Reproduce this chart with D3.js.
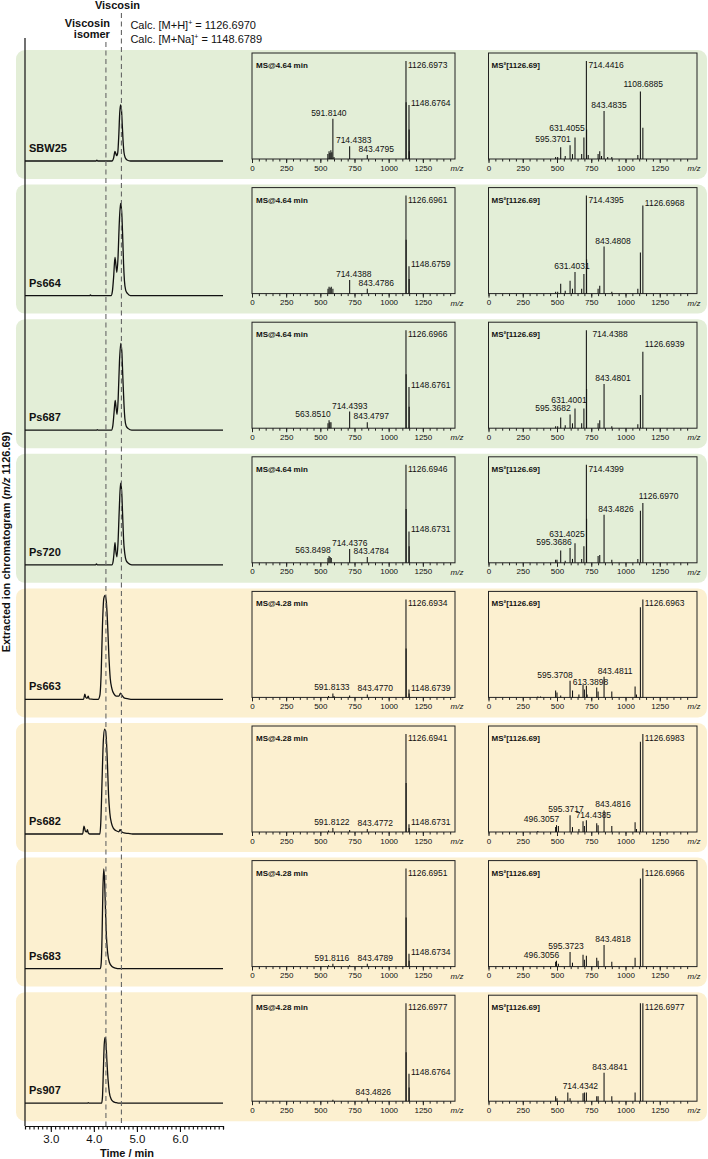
<!DOCTYPE html>
<html>
<head>
<meta charset="utf-8">
<script src="https://cdn.jsdelivr.net/npm/d3@7"></script>
<style>
  body { margin: 0; background: #fff; }
  text { font-family: "Liberation Sans", Arial, sans-serif; fill: #111; }
</style>
</head>
<body>
<svg id="chart" width="708" height="1159"></svg>
<script>
// ---- data ----
const strains = ["SBW25", "Ps664", "Ps687", "Ps720", "Ps663", "Ps682", "Ps683", "Ps907"];
const scanTimes = ["4.64", "4.64", "4.64", "4.64", "4.28", "4.28", "4.28", "4.28"];
const precursor = "1126.69";
const markerTimes = [4.28, 4.64];   // viscosin isomer, viscosin
const timeTicks = [3, 4, 5, 6];
const mzTicks = [0, 250, 500, 750, 1000, 1250];

// extracted ion chromatograms: [time (min), relative intensity]
const chromSBW25 = [[2.4,0],[4.05,0],[4.07,0.8],[4.09,0],[4.42,0],[4.46,3],[4.49,9],[4.51,7],[4.53,5],[4.555,8],[4.58,25],[4.60,45],[4.62,53],[4.64,49],[4.66,34],[4.68,18],[4.70,8],[4.73,3],[4.77,1],[4.85,0],[7.0,0]];
const chromPs664 = [[2.4,0],[3.9,0],[3.92,0.6],[3.94,0],[4.40,0],[4.43,4],[4.46,18],[4.49,36],[4.515,28],[4.535,22],[4.56,35],[4.59,68],[4.62,87],[4.645,80],[4.67,55],[4.69,30],[4.71,14],[4.74,5],[4.78,2],[4.85,0],[7.0,0]];
const chromPs687 = [[2.4,0],[4.06,0],[4.08,0.6],[4.10,0],[4.41,0],[4.44,4],[4.47,17],[4.495,28],[4.52,20],[4.54,15],[4.565,30],[4.595,65],[4.625,82],[4.65,74],[4.675,48],[4.70,24],[4.72,11],[4.75,4],[4.80,1.5],[4.88,0],[7.0,0]];
const chromPs720 = [[2.4,0],[4.04,0],[4.06,0.8],[4.08,0],[4.42,0],[4.45,4],[4.47,12],[4.49,21],[4.51,13],[4.535,7.5],[4.56,20],[4.59,52],[4.62,77],[4.645,70],[4.67,45],[4.69,24],[4.72,10],[4.75,4],[4.80,1.5],[4.88,0],[7.0,0]];
const chromPs663 = [[2.4,0],[3.76,0],[3.79,5],[3.81,2],[3.84,1],[3.87,3],[3.89,0.5],[4.10,0],[4.14,4],[4.17,25],[4.20,70],[4.23,95],[4.26,98],[4.29,92],[4.32,70],[4.35,40],[4.38,20],[4.42,10],[4.47,5],[4.52,3],[4.58,3],[4.62,6],[4.65,4],[4.70,1.5],[4.80,0.5],[4.90,0],[7.0,0]];
const chromPs682 = [[2.4,0],[3.74,0],[3.77,7.5],[3.80,3],[3.83,2],[3.85,4],[3.87,1],[3.90,0],[4.14,0],[4.16,10],[4.19,50],[4.22,88],[4.25,99],[4.28,95],[4.31,72],[4.34,38],[4.37,20],[4.41,10],[4.46,5],[4.52,3],[4.58,2],[4.61,4],[4.64,2.5],[4.70,1],[4.80,0.5],[4.90,0],[7.0,0]];
const chromPs683 = [[2.4,0],[4.15,0],[4.17,5],[4.19,30],[4.21,75],[4.23,94],[4.25,82],[4.27,55],[4.29,32],[4.32,15],[4.36,6],[4.42,2],[4.50,0.5],[4.60,0],[7.0,0]];
const chromPs907 = [[2.4,0],[3.85,0],[3.87,0.6],[3.89,0],[4.18,0],[4.20,6],[4.22,30],[4.24,55],[4.26,62],[4.28,58],[4.30,42],[4.33,22],[4.36,10],[4.40,4],[4.45,1.5],[4.52,0.5],[4.60,0],[7.0,0]];

// full-scan MS: [m/z, relative intensity %]
const ms1SBW25 = [[555,5],[563.8,8],[570,6],[577,9],[584,7],[591.81,41],[600,2],[714.44,13],[843.48,4],[1126.70,100],[1127.70,58],[1148.68,55],[1149.68,30],[1150.7,8]];
const ms1Ps664 = [[556,5],[563.8,7],[572,6],[580,7],[591.8,5],[714.44,14],[843.48,5],[1126.70,100],[1127.70,55],[1148.68,28],[1149.68,15]];
const ms1Ps687 = [[556,5],[563.85,8],[570,6],[578,6],[714.44,17],[843.48,6],[1126.70,100],[1127.70,55],[1148.68,42],[1149.68,22]];
const ms1Ps720 = [[556,5],[563.85,7],[572,6],[580,5],[714.44,14],[843.48,6],[1126.69,100],[1127.70,55],[1148.67,32],[1149.68,17]];
const ms1Ps663 = [[560,1.5],[591.81,4],[600,1.5],[714.44,2],[843.48,3],[1126.69,100],[1127.70,50],[1148.67,8],[1149.68,4]];
const ms1Ps682 = [[560,1.5],[591.81,4],[714.44,2],[843.48,3],[1126.69,100],[1127.70,50],[1148.67,8],[1149.68,4]];
const ms1Ps683 = [[560,1.5],[591.81,3],[714.44,1.5],[843.48,3],[1126.70,100],[1127.70,50],[1148.67,13],[1149.68,6]];
const ms1Ps907 = [[591.8,1.5],[843.48,3],[1126.70,100],[1127.70,50],[1148.68,28],[1149.68,14]];

const ms1LabelsSBW25 = ["591.8140", "714.4383", "843.4795", "1126.6973", "1148.6764"];
const ms1LabelsPs664 = ["714.4388", "843.4786", "1126.6961", "1148.6759"];
const ms1LabelsPs687 = ["563.8510", "714.4393", "843.4797", "1126.6966", "1148.6761"];
const ms1LabelsPs720 = ["563.8498", "714.4376", "843.4784", "1126.6946", "1148.6731"];
const ms1LabelsPs663 = ["591.8133", "843.4770", "1126.6934", "1148.6739"];
const ms1LabelsPs682 = ["591.8122", "843.4772", "1126.6941", "1148.6731"];
const ms1LabelsPs683 = ["591.8116", "843.4789", "1126.6951", "1148.6734"];
const ms1LabelsPs907 = ["843.4826", "1126.6977", "1148.6764"];

// MS2 of m/z 1126.69
const ms2SBW25 = [[490,2],[505,2],[527,12],[560,3],[595.37,14],[613,5],[631.41,22],[680,5],[696.43,22],[714.44,100],[716,30],[728,4],[800,5],[812,8],[825,3],[843.48,49],[870,2],[900,2],[1090,4],[1108.69,69],[1126.69,32]];
const ms2Ps664 = [[490,2],[505,2],[527,10],[560,3],[595.37,13],[613,5],[631.40,22],[680,5],[696.43,20],[714.44,100],[716,35],[800,5],[812,8],[843.48,48],[900,2],[1090,5],[1108.69,42],[1126.70,90]];
const ms2Ps687 = [[490,2],[505,2],[527,11],[560,3],[595.37,14],[613,5],[631.40,20],[680,5],[696.43,20],[714.44,100],[716,40],[800,5],[812,8],[843.48,45],[900,2],[1090,4],[1108.69,34],[1126.69,78]];
const ms2Ps720 = [[490,3],[500,3],[527,12.5],[560,2],[595.37,15],[613,4],[631.40,20],[680,4],[696.43,17],[714.44,100],[716,45],[800,7],[812,8],[843.48,49],[900,3],[1090,4],[1108.69,53],[1126.70,61]];
const ms2Ps663 = [[360,1],[380,1],[490,7],[500,5],[527,2],[595.37,17],[613.39,7],[660,3],[690,13],[700,8],[714.44,12],[720,3],[790,10],[800,6],[843.48,21],[900,6],[1070,11],[1080,3],[1108.69,92],[1126.70,100]];
const ms2Ps682 = [[360,1],[490,5],[496.31,7],[510,6],[595.37,17],[613,5],[660,3],[690,11],[700,6],[714.44,12],[790,9],[800,7],[843.48,22],[900,6],[1070,10],[1080,3],[1108.69,92],[1126.70,100]];
const ms2Ps683 = [[490,5],[496.31,6],[510,3],[595.37,15],[613,4],[690,12],[700,7],[714.44,11],[790,9],[800,6],[843.48,22],[900,5],[1070,9],[1108.69,90],[1126.70,100]];
const ms2Ps907 = [[490,5],[500,3],[579,9],[595.37,3],[690,8],[700,9],[714.44,9],[790,5],[800,5],[843.48,29],[900,5],[1070,9],[1108.69,100],[1126.70,100]];

const ms2LabelsSBW25 = ["595.3701", "631.4055", "714.4416", "843.4835", "1108.6885"];
const ms2LabelsPs664 = ["631.4031", "714.4395", "843.4808", "1126.6968"];
const ms2LabelsPs687 = ["595.3682", "631.4001", "714.4388", "843.4801", "1126.6939"];
const ms2LabelsPs720 = ["595.3686", "631.4025", "714.4399", "843.4826", "1126.6970"];
const ms2LabelsPs663 = ["595.3708", "613.3898", "843.4811", "1126.6963"];
const ms2LabelsPs682 = ["496.3057", "595.3717", "714.4385", "843.4816", "1126.6983"];
const ms2LabelsPs683 = ["496.3056", "595.3723", "843.4818", "1126.6966"];
const ms2LabelsPs907 = ["714.4342", "843.4841", "1126.6977"];

const chromatograms = [chromSBW25, chromPs664, chromPs687, chromPs720, chromPs663, chromPs682, chromPs683, chromPs907];
const ms1Spectra = [ms1SBW25, ms1Ps664, ms1Ps687, ms1Ps720, ms1Ps663, ms1Ps682, ms1Ps683, ms1Ps907];
const ms1Labels = [ms1LabelsSBW25, ms1LabelsPs664, ms1LabelsPs687, ms1LabelsPs720, ms1LabelsPs663, ms1LabelsPs682, ms1LabelsPs683, ms1LabelsPs907];
const ms2Spectra = [ms2SBW25, ms2Ps664, ms2Ps687, ms2Ps720, ms2Ps663, ms2Ps682, ms2Ps683, ms2Ps907];
const ms2Labels = [ms2LabelsSBW25, ms2LabelsPs664, ms2LabelsPs687, ms2LabelsPs720, ms2LabelsPs663, ms2LabelsPs682, ms2LabelsPs683, ms2LabelsPs907];

// ---- layout ----
const green = "#e3eed7", yellow = "#fcf0d0";
const rowTop0 = 50, rowStep = 134.6, rowH = 129;
const axisY = 1126;

// hand nudges for crowded peak labels [dx, dy]
const labelNudge = {
  "591.8140": [-4, 0], "714.4383": [4, 0], "843.4795": [9, 0],
  "714.4388": [4, 0], "843.4786": [9, 0],
  "563.8510": [-16, 0], "843.4797": [4, 0],
  "563.8498": [-16, 0], "843.4784": [4, 0],
  "591.8133": [-1, 0], "843.4770": [8, 0],
  "591.8122": [-1, 0], "843.4772": [8, 0],
  "591.8116": [-1, 0], "843.4789": [8, 0],
  "595.3701": [-17, 0], "631.4055": [-8, -3], "843.4835": [5, 0], "1108.6885": [-19, -5],
  "631.4031": [-3, 0], "843.4808": [9, 0],
  "595.3682": [-17, 0], "631.4001": [-6, -3], "843.4801": [9, 0], "1126.6939": [0, -6],
  "595.3686": [-16, 0], "631.4025": [-8, -3], "1126.6970": [-6, -5],
  "595.3708": [-15, 0], "613.3898": [18, -3], "843.4811": [11, 0],
  "496.3057": [-15, 0], "595.3717": [-4, 0], "714.4385": [7, 1], "843.4816": [9, 0],
  "496.3056": [-15, 0], "595.3723": [-4, 0], "843.4818": [9, 0],
  "714.4342": [-6, 0], "843.4841": [6, 0]
};
// the 843.4826 label appears in two panels with different offsets
const nudgeByPanel = { "3-ms2-843.4826": [12, 0], "7-ms1-843.4826": [6, 0] };

const svg = d3.select("#chart");
const x = d3.scaleLinear().domain([2.4, 7.0]).range([25, 223]);

// row backgrounds
strains.forEach((s, i) => {
  svg.append("rect")
    .attr("x", 16).attr("y", rowTop0 + i * rowStep)
    .attr("width", 691).attr("height", rowH)
    .attr("rx", 9)
    .attr("fill", i < 4 ? green : yellow);
});

function drawSpectrum(g, row, top, x0, xEnd, xRight, peaks, labels, title, ms2) {
  const xs = d3.scaleLinear().domain([0, 1500]).range([x0, xEnd]);
  const base = top + 109;
  const ys = d3.scaleLinear().domain([0, 100]).range([base, top + 11]);

  g.append("rect")
    .attr("x", x0).attr("y", top + 3)
    .attr("width", xRight - x0).attr("height", base - top - 3)
    .attr("fill", "none").attr("stroke", "#222").attr("stroke-width", 1);

  // minor ticks
  g.append("g").attr("transform", `translate(0,${base})`)
    .call(d3.axisBottom(xs).tickValues(d3.range(0, 1451, 50)).tickSize(2.5).tickFormat(""))
    .call(a => a.select(".domain").remove())
    .call(a => a.selectAll("line").attr("stroke", "#222"));
  // major ticks
  g.append("g").attr("transform", `translate(0,${base})`)
    .call(d3.axisBottom(xs).tickValues(mzTicks).tickSize(4).tickPadding(2).tickFormat(d3.format("d")))
    .call(a => a.select(".domain").remove())
    .call(a => a.selectAll("line").attr("stroke", "#222"))
    .call(a => a.selectAll("text").attr("font-size", 8).attr("font-family", null).attr("fill", "#111"));

  g.append("text")
    .attr("x", xs(1500)).attr("y", base + 12)
    .attr("text-anchor", "middle").attr("font-size", 8).attr("font-style", "italic")
    .text("m/z");

  g.selectAll(null).data(peaks).join("line")
    .attr("x1", d => xs(d[0])).attr("x2", d => xs(d[0]))
    .attr("y1", ys(0)).attr("y2", d => ys(d[1]))
    .attr("stroke", "#111").attr("stroke-width", 1.05);

  g.append("text")
    .attr("x", x0 + (ms2 ? 3 : 4)).attr("y", top + 18)
    .attr("font-size", 8).attr("font-weight", "bold")
    .text(title);

  labels.forEach(lab => {
    const mz = parseFloat(lab);
    const pk = peaks.reduce((a, b) => Math.abs(b[0] - mz) < Math.abs(a[0] - mz) ? b : a);
    const px = xs(pk[0]), py = ys(pk[1]);
    const key = `${row}-${ms2 ? "ms2" : "ms1"}-${lab}`;
    const n = nudgeByPanel[key] || labelNudge[lab] || [0, 0];
    let anchor = "middle", lx = px, ly = py - 3;
    if (pk[1] >= 95) { anchor = "start"; lx = px + 2; ly = py + 7; }
    else if (pk[0] >= 1100) { anchor = "start"; lx = px + 2; ly = py + 1; }
    g.append("text")
      .attr("x", lx + n[0]).attr("y", ly + n[1])
      .attr("text-anchor", anchor).attr("font-size", 8.5)
      .text(lab);
  });
}

strains.forEach((name, i) => {
  const top = rowTop0 + i * rowStep;
  const g = svg.append("g");
  const base = top + 111;
  const y = d3.scaleLinear().domain([0, 100]).range([base, base - 106]);

  g.append("path")
    .datum(chromatograms[i])
    .attr("d", d3.line().x(d => x(d[0])).y(d => y(d[1])).curve(d3.curveMonotoneX))
    .attr("fill", "none").attr("stroke", "#111").attr("stroke-width", 1.3);

  g.append("text")
    .attr("x", 29).attr("y", top + 102)
    .attr("font-size", 11).attr("font-weight", "bold")
    .text(name);

  drawSpectrum(g, i, top, 252, 457, 455, ms1Spectra[i], ms1Labels[i], "MS@" + scanTimes[i] + " min", false);
  drawSpectrum(g, i, top, 488.5, 694, 697, ms2Spectra[i], ms2Labels[i], "MS\u00B2[" + precursor + "]", true);
});

// marker lines
svg.selectAll(null).data(markerTimes).join("line")
  .attr("x1", d => x(d)).attr("x2", d => x(d))
  .attr("y1", (d, i) => i === 0 ? 42 : 13).attr("y2", axisY)
  .attr("stroke", "#666").attr("stroke-width", 1.1).attr("stroke-dasharray", "5,3.5");

// header text
svg.append("text").attr("x", x(4.64) - 4).attr("y", 8.5)
  .attr("text-anchor", "middle").attr("font-size", 11).attr("font-weight", "bold").text("Viscosin");
svg.append("text").attr("x", x(4.28) + 4).attr("y", 26.5)
  .attr("text-anchor", "end").attr("font-size", 11).attr("font-weight", "bold").text("Viscosin");
svg.append("text").attr("x", x(4.28) + 4).attr("y", 38)
  .attr("text-anchor", "end").attr("font-size", 11).attr("font-weight", "bold").text("isomer");

const calc = [["[M+H]", "1126.6970", 29], ["[M+Na]", "1148.6789", 43]];
calc.forEach(c => {
  const t = svg.append("text").attr("x", x(4.64) + 9).attr("y", c[2]).attr("font-size", 11);
  t.append("tspan").text("Calc. " + c[0]);
  t.append("tspan").attr("dy", -4).attr("font-size", 7).text("+");
  t.append("tspan").attr("dy", 4).text(" = " + c[1]);
});

// time axis
svg.append("line").attr("x1", 25).attr("x2", 25).attr("y1", 38).attr("y2", axisY)
  .attr("stroke", "#111").attr("stroke-width", 1.2);
svg.append("g").attr("transform", `translate(0,${axisY})`)
  .call(d3.axisBottom(x).tickValues(d3.range(25, 71).map(v => v / 10)).tickSize(3.5).tickFormat(""))
  .call(a => a.select(".domain").attr("stroke", "#111").attr("stroke-width", 1.2))
  .call(a => a.selectAll("line").attr("stroke", "#111").attr("stroke-width", 1.1));
svg.append("g").attr("transform", `translate(0,${axisY})`)
  .call(d3.axisBottom(x).tickValues(timeTicks).tickSize(6).tickPadding(3).tickFormat(d3.format(".1f")))
  .call(a => a.select(".domain").remove())
  .call(a => a.selectAll("line").attr("stroke", "#111").attr("stroke-width", 1.1))
  .call(a => a.selectAll("text").attr("font-size", 11.5).attr("font-family", null).attr("fill", "#111"));

svg.append("text").attr("x", 127).attr("y", 1157)
  .attr("text-anchor", "middle").attr("font-size", 11).attr("font-weight", "bold").text("Time / min");

const yl = svg.append("text")
  .attr("transform", "translate(10,542) rotate(-90)")
  .attr("text-anchor", "middle").attr("font-size", 11).attr("font-weight", "bold");
yl.append("tspan").text("Extracted ion chromatogram (");
yl.append("tspan").attr("font-style", "italic").text("m/z");
yl.append("tspan").text(" 1126.69)");
</script>
</body>
</html>
